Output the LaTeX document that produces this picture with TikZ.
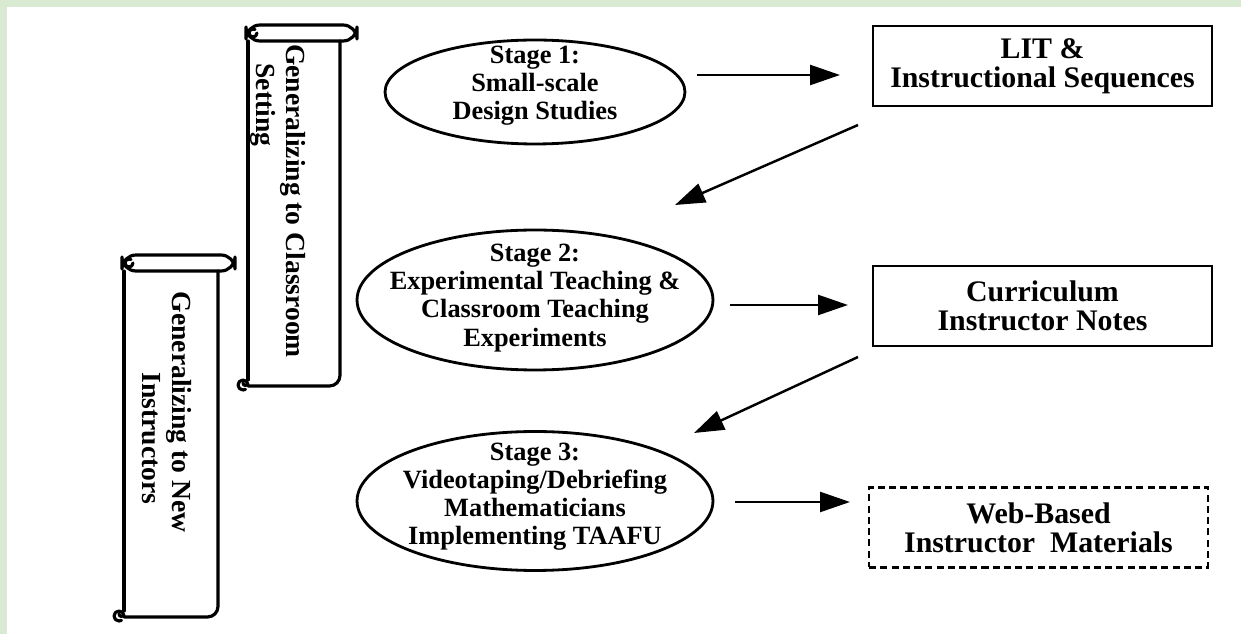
\documentclass[tikz,border=0pt]{standalone}
\usepackage{fontspec}
\setmainfont{Liberation Serif}
\usetikzlibrary{arrows.meta,shapes.geometric}

\definecolor{framegreen}{RGB}{217,234,211}

\tikzset{
  stage/.style={draw, ellipse, line width=1.6pt, inner sep=0pt},
  stagetext/.style={align=center, inner sep=0pt, font=\bfseries\fontsize{15}{16}\selectfont},
  outbox/.style={draw, line width=1.6pt, align=center, minimum width=6.78cm, minimum height=1.6cm,
    font=\bfseries\fontsize{17}{16.6}\selectfont},
  arr/.style={line width=1.4pt, -{Triangle[length=0.6cm,width=0.4cm]}},
  scrollline/.style={line width=1.8pt, line cap=round, line join=round},
  scrolltext/.style={rotate=-90, align=left, inner sep=0pt, font=\bfseries\fontsize{15.7}{17}\selectfont}
}

\begin{document}
\begin{tikzpicture}[x=0.02cm, y=-0.02cm]
    \useasboundingbox (0,0) rectangle (1241,634);
    \fill[framegreen] (0,0) rectangle (1241,634);
    \fill[white] (7,7) rectangle (1241,634);

    % scrolls
    \foreach \l/\r/\t/\b in {248/340/25/386, 124/218/255/617} {
        \draw[scrollline, rounded corners=8] (\l-2,\t) rectangle (\r+17,\t+16);
        \draw[scrollline] (\l+9,\t+8) arc[start angle=0, delta angle=300, radius=4];
        \draw[scrollline] (\l,\t+16) -- (\l,\b-6);
        \draw[scrollline, rounded corners=6] (\l,\b) -- (\r,\b) -- (\r,\t+16);
        \draw[scrollline] (\l,\b-1) arc[start angle=0, delta angle=-300, radius=5];
        \draw[scrollline] (\l-5,\b-3) arc[start angle=180, delta angle=-160, radius=2.5];
    }
    \node[scrolltext] (s1) at (278,201) {Generalizing to Classroom\\\hspace*{11pt}Setting};
    \node[scrolltext] (s2) at (167,412) {Generalizing to New\\\hspace*{46pt}Instructors};

    % stages
    \node[stage, minimum width=6cm, minimum height=2.08cm] (e1) at (535,92) {};
    \node[stagetext] (t1) at (535,86) {Stage 1:\\Small-scale\\Design Studies};
    \node[stage, minimum width=7.12cm, minimum height=2.8cm] (e2) at (535,300) {};
    \node[stagetext] (t2) at (535,298) {Stage 2:\\Experimental Teaching \&\\Classroom Teaching\\Experiments};
    \node[stage, minimum width=7.12cm, minimum height=2.78cm] (e3) at (535,501) {};
    \node[stagetext] (t3) at (535,497) {Stage 3:\\Videotaping/Debriefing\\Mathematicians\\Implementing TAAFU};

    % products
    \node[outbox] (b1) at (1042.5,66) {LIT \&\\Instructional Sequences};
    \node[outbox] (b2) at (1042.5,306) {Curriculum\\Instructor Notes};
    \node[outbox, dash pattern=on 4pt off 2.4pt] (b3) at (1038.5,527.5) {Web-Based\\Instructor~ Materials};

    % arrows
    \coordinate (a1s) at (697,75);
    \coordinate (a1e) at (840,75);
    \coordinate (d1s) at (858,125);
    \coordinate (d1e) at (675,205);
    \coordinate (a2s) at (730,305);
    \coordinate (a2e) at (848,305);
    \coordinate (d2s) at (858,357);
    \coordinate (d2e) at (694,433);
    \coordinate (a3s) at (735,502);
    \coordinate (a3e) at (850,502);
    \draw[arr] (a1s) -- (a1e);
    \draw[arr] (d1s) -- (d1e);
    \draw[arr] (a2s) -- (a2e);
    \draw[arr] (d2s) -- (d2e);
    \draw[arr] (a3s) -- (a3e);
\end{tikzpicture}
\end{document}
